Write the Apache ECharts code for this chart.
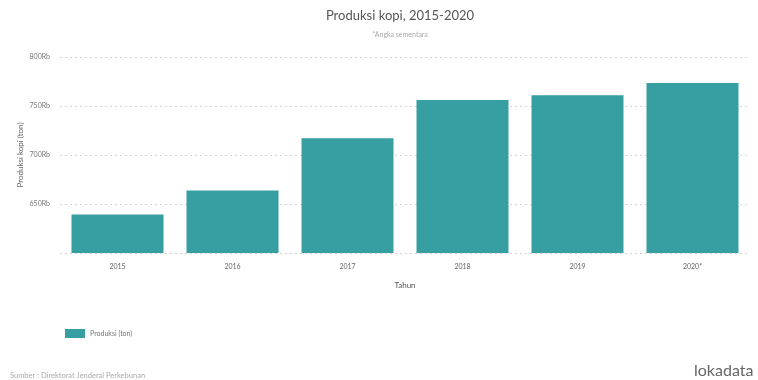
<!DOCTYPE html>
<html><head><meta charset="utf-8">
<script src="https://cdn.jsdelivr.net/npm/echarts@6/dist/echarts.min.js"></script>
<style>html,body{margin:0;padding:0;background:#fff}#c{width:758px;height:380px}</style>
</head><body><div id="c"></div>
<script>
const categories = ['2015','2016','2017','2018','2019','2020*'];
const production = [639.4, 663.9, 717.0, 756.0, 761.0, 773.4];
const yTicks = [600, 650, 700, 750, 800];

const chart = echarts.init(document.getElementById('c'));
chart.setOption({
  backgroundColor: '#fff',
  textStyle: { fontFamily: 'Lato' },
  title: [
    { text: 'Produksi kopi, 2015-2020', left: 395, textAlign: 'center', top: 4,
      textStyle: { fontFamily: 'Lato', fontSize: 13, fontWeight: 'normal', color: '#555' } },
    { text: '*Angka sementara', left: 395, textAlign: 'center', top: 26,
      textStyle: { fontFamily: 'Lato', fontSize: 7, fontWeight: 'normal', color: '#aaa' } },
    { text: 'Sumber : Direktorat Jenderal Perkebunan', left: 5, top: 367,
      textStyle: { fontFamily: 'Lato', fontSize: 7.5, fontWeight: 'normal', color: '#aaa' } },
    { text: 'lokadata', left: 689, top: 358,
      textStyle: { fontFamily: 'Lato', fontSize: 16, fontWeight: 'normal', color: '#666' } }
  ],
  legend: {
    left: 60, top: 324, itemWidth: 20, itemHeight: 9, itemGap: 4,
    icon: 'rect',
    textStyle: { fontSize: 7, color: '#777' },
    data: ['Produksi (ton)']
  },
  grid: { left: 60, right: 8, top: 57, bottom: 127 },
  xAxis: {
    type: 'category', data: categories,
    name: 'Tahun', nameLocation: 'middle', nameGap: 28,
    nameTextStyle: { fontSize: 8, color: '#555' },
    axisLine: { show: false }, axisTick: { show: false },
    axisLabel: { fontSize: 7, color: '#666', margin: 10 }
  },
  yAxis: {
    type: 'value', min: yTicks[0], max: yTicks[yTicks.length - 1], interval: 50,
    name: 'Produksi kopi (ton)', nameLocation: 'middle', nameGap: 36, nameMoveOverlap: false,
    nameTextStyle: { fontSize: 8, color: '#666' },
    axisLine: { show: false }, axisTick: { show: false },
    axisLabel: { fontSize: 7, color: '#777', margin: 10, showMinLabel: false,
      formatter: v => v + 'Rb' },
    splitLine: { lineStyle: { type: [2, 3], color: '#d4d4d4', width: 1 } }
  },
  series: [{
    name: 'Produksi (ton)', type: 'bar', data: production,
    barCategoryGap: '20%',
    itemStyle: { color: '#379ea1' }
  }]
});
</script></body></html>
